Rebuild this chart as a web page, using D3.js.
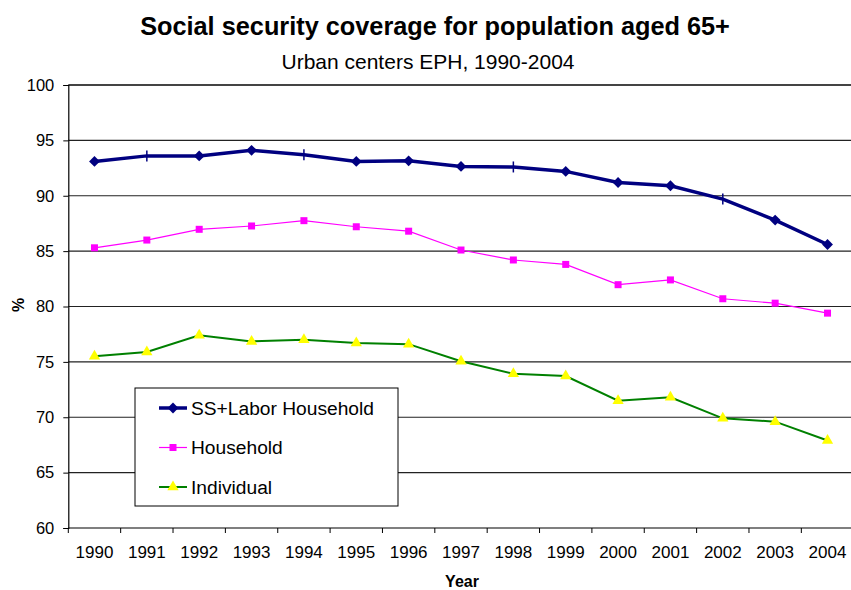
<!DOCTYPE html>
<html>
<head>
<meta charset="utf-8">
<script src="https://cdn.jsdelivr.net/npm/d3@7"></script>
<style>
  html, body { margin: 0; padding: 0; background: #fff; }
  svg { display: block; font-family: "Liberation Sans", Arial, sans-serif; }
</style>
</head>
<body>
<svg id="chart" width="851" height="590"></svg>
<script>
// Survey years
const years = ["1990","1991","1992","1993","1994","1995","1996","1997","1998","1999","2000","2001","2002","2003","2004"];

// Coverage (%) per series
const ssLabor   = [93.1, 93.6, 93.6, 94.1, 93.7, 93.1, 93.15, 92.65, 92.6, 92.2, 91.2, 90.9, 89.7, 87.8, 85.6];
const household = [85.3, 86.0, 86.97, 87.27, 87.75, 87.2, 86.8, 85.1, 84.2, 83.8, 81.97, 82.4, 80.7, 80.3, 79.4];
const individual = [75.5, 75.9, 77.4, 76.85, 77.0, 76.7, 76.6, 75.05, 73.93, 73.72, 71.5, 71.8, 69.9, 69.6, 67.9];

// Years where the SS+Labor marker is drawn as a plain cross
const crossYears = ["1991", "1994", "1998", "2002"];

const yTicks = [60, 65, 70, 75, 80, 85, 90, 95, 100];

const seriesNames = ["SS+Labor Household", "Household", "Individual"];

const W = 851, H = 590;
const margin = { left: 68.3, right: -2.7, top: 85, bottom: 62 };
const svg = d3.select("#chart");

const x = d3.scaleBand().domain(years).range([margin.left, W - margin.right]);
const y = d3.scaleLinear().domain([60, 100]).range([H - margin.bottom, margin.top]);
const cx = d => x(d) + x.bandwidth() / 2;

// Titles
svg.append("text").attr("x", 435).attr("y", 35).attr("text-anchor", "middle")
  .attr("font-size", 25.3).attr("font-weight", "bold").text("Social security coverage for population aged 65+");
svg.append("text").attr("x", 428).attr("y", 69).attr("text-anchor", "middle")
  .attr("font-size", 21).text("Urban centers EPH, 1990-2004");

// Horizontal gridlines
svg.append("g").selectAll("line").data(yTicks.filter(t => t > 60)).join("line")
  .attr("x1", margin.left).attr("x2", W)
  .attr("y1", d => y(d)).attr("y2", d => y(d))
  .attr("stroke", d => d === 100 ? "#444" : "#222")
  .attr("stroke-width", d => d === 100 ? 2 : 1.2);

// Y axis
const yAxis = svg.append("g").attr("transform", `translate(${margin.left},0)`)
  .call(d3.axisLeft(y).tickValues(yTicks).tickSize(5).tickPadding(9).tickFormat(d3.format("d")));
yAxis.select(".domain").attr("stroke", "#000").attr("stroke-width", 1.2);
yAxis.selectAll(".tick line").attr("stroke", "#000");
yAxis.selectAll("text").attr("font-size", 16.5).attr("fill", "#000")
  .attr("font-family", "'Liberation Sans', Arial, sans-serif");

// X axis with ticks on band boundaries
const xAxisG = svg.append("g").attr("transform", `translate(0,${y(60)})`);
xAxisG.append("line").attr("x1", margin.left).attr("x2", W)
  .attr("stroke", "#000").attr("stroke-width", 1.2);
xAxisG.selectAll("line.tk").data(years).join("line").attr("class", "tk")
  .attr("x1", d => x(d)).attr("x2", d => x(d)).attr("y1", 0).attr("y2", 5)
  .attr("stroke", "#000");
xAxisG.selectAll("text").data(years).join("text")
  .attr("x", d => cx(d)).attr("y", 30).attr("text-anchor", "middle")
  .attr("font-size", 17).text(d => d);

// Axis titles
svg.append("text").attr("x", 462).attr("y", 587).attr("text-anchor", "middle")
  .attr("font-size", 16).attr("font-weight", "bold").text("Year");
svg.append("text").attr("transform", "translate(24,305) rotate(-90)").attr("text-anchor", "middle")
  .attr("font-size", 16).attr("font-weight", "bold").text("%");

const line = d3.line().x((d, i) => cx(years[i])).y(d => y(d));

// Individual (green, yellow triangles)
svg.append("path").datum(individual).attr("d", line)
  .attr("fill", "none").attr("stroke", "#008000").attr("stroke-width", 2);
svg.append("g").selectAll("path").data(individual).join("path")
  .attr("transform", (d, i) => `translate(${cx(years[i])},${y(d)})`)
  .attr("d", d3.symbol(d3.symbolTriangle, 55)).attr("fill", "#ffff00");

// Household (magenta, squares)
svg.append("path").datum(household).attr("d", line)
  .attr("fill", "none").attr("stroke", "#ff00ff").attr("stroke-width", 1.2);
svg.append("g").selectAll("rect").data(household).join("rect")
  .attr("x", (d, i) => cx(years[i]) - 3.5).attr("y", d => y(d) - 3.5)
  .attr("width", 7).attr("height", 7).attr("fill", "#ff00ff");

// SS+Labor Household (navy, diamonds)
svg.append("path").datum(ssLabor).attr("d", line)
  .attr("fill", "none").attr("stroke", "#000080").attr("stroke-width", 3.5);
const ssPts = ssLabor.map((v, i) => ({ v, yr: years[i] }));
svg.append("g").selectAll("path").data(ssPts.filter(p => !crossYears.includes(p.yr))).join("path")
  .attr("transform", p => `translate(${cx(p.yr)},${y(p.v)})`)
  .attr("d", d3.symbol(d3.symbolDiamond2, 75)).attr("fill", "#000080");
svg.append("g").selectAll("line").data(ssPts.filter(p => crossYears.includes(p.yr))).join("line")
  .attr("x1", p => cx(p.yr)).attr("x2", p => cx(p.yr))
  .attr("y1", p => y(p.v) - 5.5).attr("y2", p => y(p.v) + 5.5)
  .attr("stroke", "#000080").attr("stroke-width", 1.5);

// Legend
const lg = svg.append("g").attr("transform", "translate(135,388)");
lg.append("rect").attr("x", 0).attr("y", 0).attr("width", 263).attr("height", 118)
  .attr("fill", "#fff").attr("stroke", "#000").attr("stroke-width", 1);
const rowsY = [20, 59.5, 99];
const colors = ["#000080", "#ff00ff", "#008000"];
const widths = [3.5, 1.2, 2];
seriesNames.forEach((name, i) => {
  const g = lg.append("g").attr("transform", `translate(0,${rowsY[i]})`);
  g.append("line").attr("x1", 24).attr("x2", 52).attr("stroke", colors[i]).attr("stroke-width", widths[i]);
  if (i === 0) {
    g.append("path").attr("transform", "translate(38,0)")
      .attr("d", d3.symbol(d3.symbolDiamond2, 75)).attr("fill", "#000080");
  } else if (i === 1) {
    g.append("rect").attr("x", 34.5).attr("y", -3.5).attr("width", 7).attr("height", 7).attr("fill", "#ff00ff");
  } else {
    g.append("path").attr("transform", "translate(38,0)")
      .attr("d", d3.symbol(d3.symbolTriangle, 55)).attr("fill", "#ffff00");
  }
  g.append("text").attr("x", 56).attr("y", 6.5).attr("font-size", 19.2).text(name);
});
</script>
</body>
</html>
